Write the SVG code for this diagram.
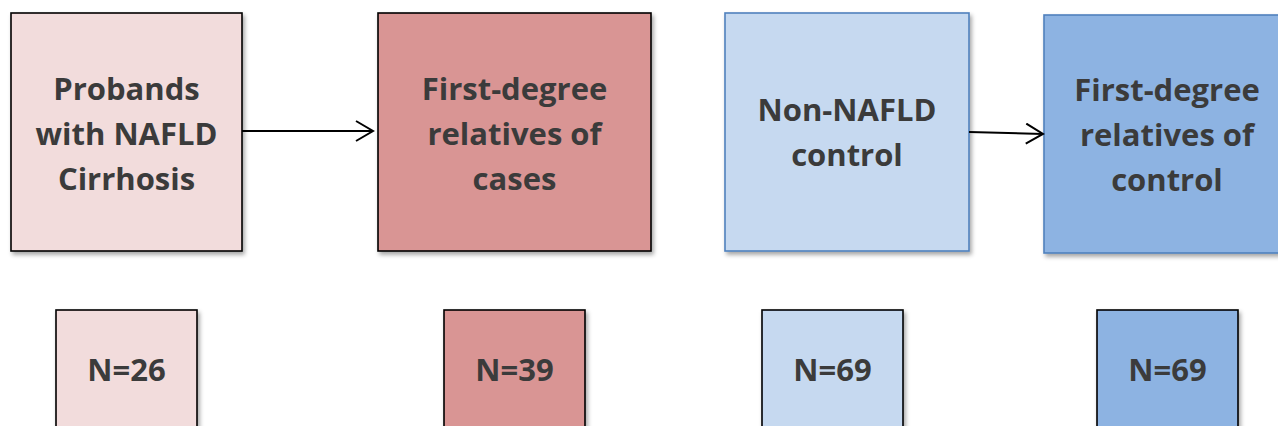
<svg xmlns="http://www.w3.org/2000/svg" width="1278" height="426" viewBox="0 0 1278 426">
<style>
.t{font-family:"Open Sans","Liberation Sans",sans-serif;font-weight:bold;font-size:31px;fill:#3b3b3b;text-anchor:middle}
.bk{stroke:#000;stroke-width:1.6}
.bl{stroke:#4f81bd;stroke-width:1.6}
.c{stroke:#000;stroke-width:2;fill:none}
</style>
<defs>
<filter id="sh" x="-10%" y="-10%" width="125%" height="125%">
<feDropShadow dx="2" dy="3" stdDeviation="2" flood-color="#000" flood-opacity="0.35"/>
</filter>
<marker id="ah" markerWidth="22" markerHeight="24" refX="18" refY="11" orient="auto" markerUnits="userSpaceOnUse">
<path d="M1,1 L18,11 L1,21" fill="none" stroke="#000" stroke-width="2"/>
</marker>
</defs>
<g id="n1"><rect x="11" y="13" width="231" height="238" fill="#f2dcdc" class="bk" filter="url(#sh)"/>
<text class="t" x="126.5" y="100">Probands</text><text class="t" x="126.5" y="145">with NAFLD</text><text class="t" x="126.5" y="190">Cirrhosis</text></g>
<g id="n2"><rect x="378" y="13" width="273" height="238" fill="#d99594" class="bk" filter="url(#sh)"/>
<text class="t" x="514.5" y="100">First-degree</text><text class="t" x="514.5" y="145">relatives of</text><text class="t" x="514.5" y="190">cases</text></g>
<g id="n3"><rect x="725" y="13" width="244" height="238" fill="#c6d9f0" class="bl" filter="url(#sh)"/>
<text class="t" x="847" y="121">Non-NAFLD</text><text class="t" x="847" y="166">control</text></g>
<g id="n4"><rect x="1044" y="15" width="246" height="238" fill="#8db3e2" class="bl" filter="url(#sh)"/>
<text class="t" x="1167" y="101">First-degree</text><text class="t" x="1167" y="146">relatives of</text><text class="t" x="1167" y="191">control</text></g>
<g id="n5"><rect x="56" y="310" width="141" height="130" fill="#f2dcdc" class="bk" filter="url(#sh)"/>
<text class="t" x="126.5" y="381">N=26</text></g>
<g id="n6"><rect x="444" y="310" width="141" height="130" fill="#d99594" class="bk" filter="url(#sh)"/>
<text class="t" x="514.5" y="381">N=39</text></g>
<g id="n7"><rect x="762" y="310" width="141" height="130" fill="#c6d9f0" class="bk" filter="url(#sh)"/>
<text class="t" x="832.5" y="381">N=69</text></g>
<g id="n8"><rect x="1097" y="310" width="141" height="130" fill="#8db3e2" class="bk" filter="url(#sh)"/>
<text class="t" x="1167.5" y="381">N=69</text></g>
<g id="connectors">
<line x1="242" y1="131" x2="373" y2="131" class="c" marker-end="url(#ah)"/>
<line x1="969" y1="132" x2="1043" y2="134" class="c" marker-end="url(#ah)"/>
</g>
</svg>
